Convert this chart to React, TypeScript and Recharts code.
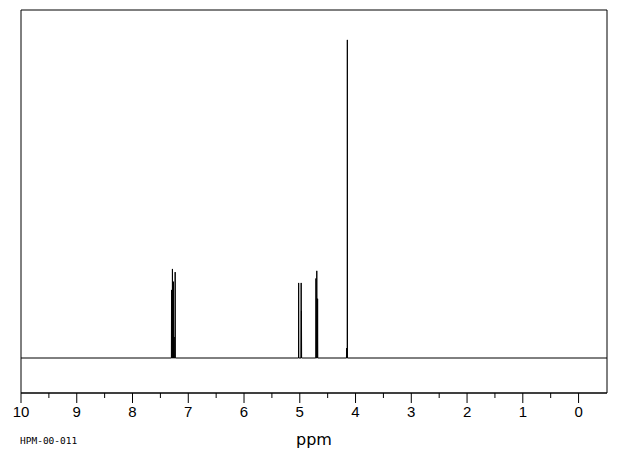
import React from "react";
import { LineChart, Line, XAxis, YAxis, ReferenceArea } from "recharts";

// Peak positions (ppm) and relative intensities (tallest = 100)
const peakPpm: number[] = [
  7.3, 7.284, 7.266, 7.253, 7.235,
  5.02, 4.975, 4.97,
  4.71, 4.695, 4.685, 4.68,
  4.16, 4.147,
];
const peakHeight: number[] = [
  21.4, 28, 24, 6.6, 27,
  23.6, 23.6, 14.8,
  25, 27.4, 18.6, 18.6,
  3.1, 100,
];
const majorTicks: number[] = [0, 1, 2, 3, 4, 5, 6, 7, 8, 9, 10];
const minorTicks: number[] = [0.5, 1.5, 2.5, 3.5, 4.5, 5.5, 6.5, 7.5, 8.5, 9.5];
const xMin = -0.51;
const xMax = 10;
const yMin = -11;
const yMax = 109.4;

const HALF = 0.003;

const spectrum: { x: number; y: number }[] = (() => {
  const pts: { x: number; y: number }[] = [{ x: xMax, y: 0 }];
  const order = peakPpm.map((p, i) => i).sort((a, b) => peakPpm[b] - peakPpm[a]);
  for (const i of order) {
    pts.push({ x: peakPpm[i] + HALF, y: 0 });
    pts.push({ x: peakPpm[i], y: peakHeight[i] });
    pts.push({ x: peakPpm[i] - HALF, y: 0 });
  }
  pts.push({ x: xMin, y: 0 });
  return pts;
})();

const allTicks = [...majorTicks, ...minorTicks].sort((a, b) => a - b);

const Tick = (props: any) => {
  const { x, y, payload } = props;
  const v = payload.value;
  const major = Number.isInteger(v);
  return (
    <g>
      <line x1={x} x2={x} y1={y} y2={y + (major ? 10 : 5)} stroke="#000" strokeWidth={1} />
      {major && (
        <text
          x={x}
          y={y + 24}
          textAnchor="middle"
          fontSize={15}
          fontFamily="'Liberation Sans', 'DejaVu Sans', sans-serif"
          fill="#000"
        >
          {v}
        </text>
      )}
    </g>
  );
};

export default function App() {
  return (
    <div style={{ position: "absolute", left: 0, top: 0, width: 620, height: 455, background: "#fff" }}>
      <LineChart
        width={620}
        height={455}
        data={spectrum}
        margin={{ top: 10, right: 13, left: 21, bottom: 0 }}
      >
        <XAxis
          dataKey="x"
          type="number"
          domain={[xMin, xMax]}
          allowDataOverflow
          reversed
          ticks={allTicks}
          interval={0}
          tickSize={0}
          tickMargin={0}
          tickLine={false}
          tick={<Tick />}
          height={62}
          axisLine={{ stroke: "#000", strokeWidth: 1 }}
          label={{
            value: "ppm",
            position: "insideBottom",
            offset: 10,
            fontSize: 16,
            fill: "#000",
            fontFamily: "'DejaVu Sans', sans-serif",
          }}
        />
        <YAxis type="number" domain={[yMin, yMax]} allowDataOverflow hide />
        <ReferenceArea
          x1={xMin}
          x2={xMax}
          y1={yMin}
          y2={yMax}
          fill="none"
          fillOpacity={0}
          stroke="#000"
          strokeWidth={1}
        />
        <Line
          dataKey="y"
          type="linear"
          stroke="#000"
          strokeWidth={1}
          dot={false}
          activeDot={false}
          isAnimationActive={false}
        />
      </LineChart>
      <div
        style={{
          position: "absolute",
          left: 20,
          top: 436,
          fontSize: 9.5,
          fontFamily: "'DejaVu Sans Mono', monospace",
          color: "#000",
          lineHeight: 1,
        }}
      >
        HPM-00-011
      </div>
    </div>
  );
}
